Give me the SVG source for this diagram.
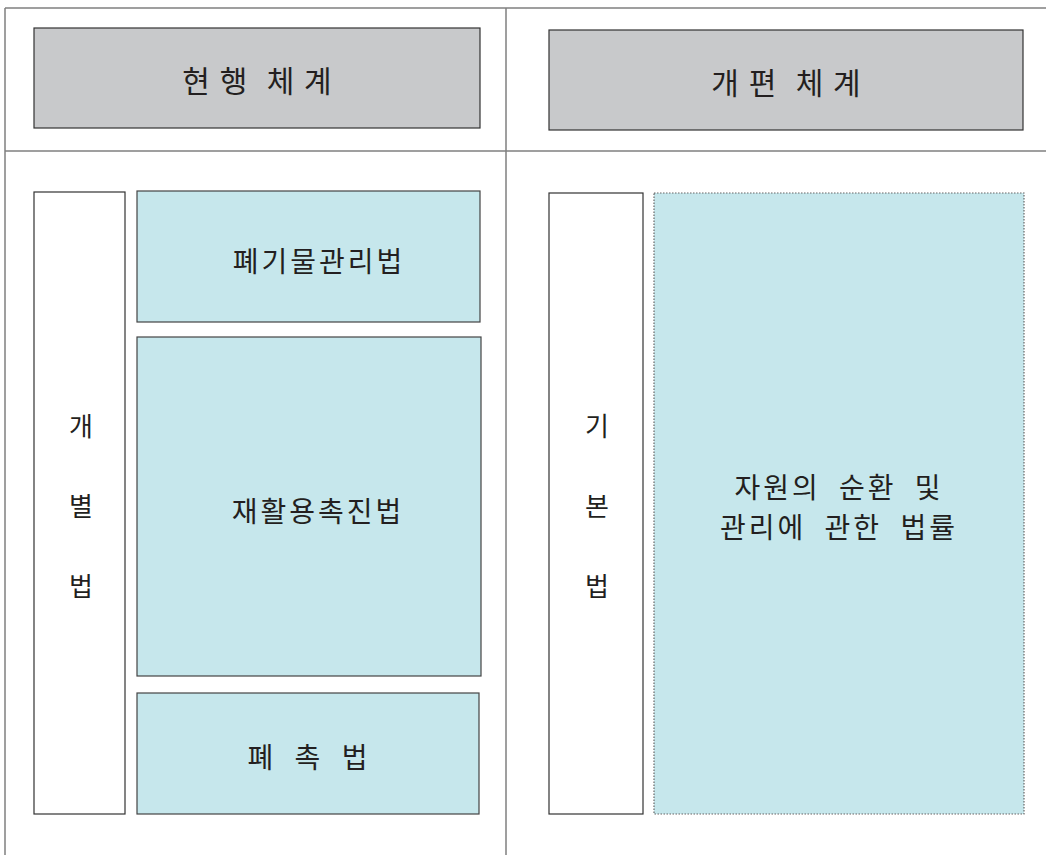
<svg xmlns="http://www.w3.org/2000/svg" width="1046" height="855" viewBox="0 0 1046 855">
<style>
.frame{stroke:#7f7f7f;stroke-width:1.5;fill:none}
.hdr{fill:#c8c9cb;stroke:#333;stroke-width:1.2}
.side{fill:#fff;stroke:#333;stroke-width:1.2}
.law{fill:#c6e7ec;stroke:#444;stroke-width:1.2}
.dot{fill:#c6e7ec;stroke:#666;stroke-width:1.2;stroke-dasharray:1.5 1.5}
text{font-family:"Noto Sans CJK KR","Noto Sans",sans-serif;font-weight:400;fill:#231f20;text-anchor:middle}
.h{font-size:30px;word-spacing:3px}
.t{font-size:28px;letter-spacing:3px;word-spacing:9px}
.v{font-size:26px}
</style>
<rect width="1046" height="855" fill="#fff"/>
<g id="frame">
<line class="frame" x1="5" y1="8" x2="1046" y2="8"/>
<line class="frame" x1="5" y1="151" x2="1046" y2="151"/>
<line class="frame" x1="5" y1="8" x2="5" y2="855"/>
<line class="frame" x1="506" y1="8" x2="506" y2="855"/>
</g>
<g id="hdr-current"><rect class="hdr" x="34" y="28" width="446" height="100"/><text class="h" x="257" y="92" xml:space="preserve">현 행  체 계</text></g>
<g id="hdr-new"><rect class="hdr" x="549" y="30" width="474" height="100"/><text class="h" x="786" y="94" xml:space="preserve">개 편  체 계</text></g>
<g id="individual"><rect class="side" x="34" y="192" width="91" height="622"/>
<text class="v" x="81" y="436">개</text><text class="v" x="81" y="516">별</text><text class="v" x="81" y="596">법</text></g>
<g id="waste"><rect class="law" x="137" y="191" width="343" height="131"/><text class="t" x="319" y="272">폐기물관리법</text></g>
<g id="recycle"><rect class="law" x="137" y="337" width="344" height="339"/><text class="t" x="318" y="522">재활용촉진법</text></g>
<g id="pchok"><rect class="law" x="137" y="693" width="342" height="121"/><text class="t" x="309" y="768" xml:space="preserve">폐 촉 법</text></g>
<g id="basic"><rect class="side" x="549" y="193" width="94" height="621"/>
<text class="v" x="597" y="436">기</text><text class="v" x="597" y="516">본</text><text class="v" x="597" y="596">법</text></g>
<g id="resource"><rect class="dot" x="654" y="193" width="370" height="621"/>
<text class="t" x="839" y="498">자원의 순환 및</text><text class="t" x="839" y="538">관리에 관한 법률</text></g>
<g id="connectors"></g>
</svg>
